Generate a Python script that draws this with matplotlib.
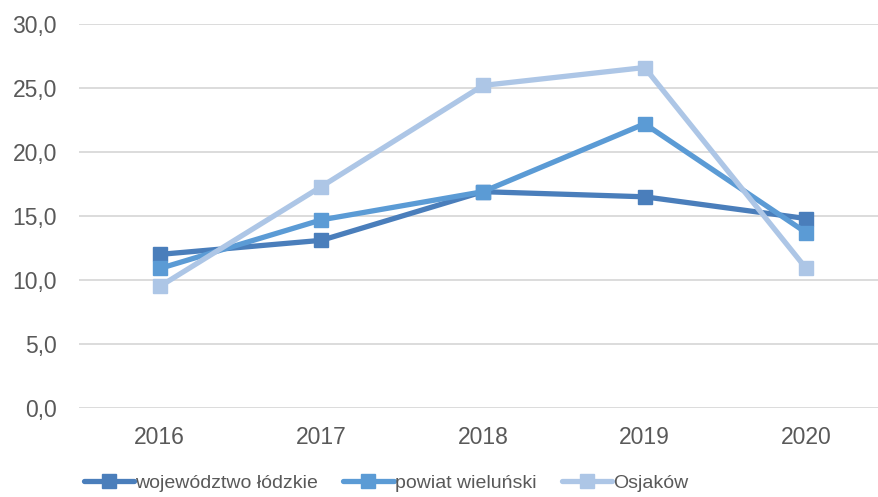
import matplotlib.pyplot as plt
from matplotlib.ticker import FuncFormatter

plt.rcParams['font.family'] = ['Liberation Sans', 'DejaVu Sans']

# dane
years = ['2016', '2017', '2018', '2019', '2020']
wojewodztwo = [12.0, 13.1, 16.9, 16.5, 14.8]
powiat = [10.9, 14.7, 16.9, 22.2, 13.7]
osjakow = [9.5, 17.3, 25.2, 26.6, 10.9]

series = [
    ('województwo łódzkie', wojewodztwo, '#4A7EBB'),
    ('powiat wieluński', powiat, '#5B9BD5'),
    ('Osjaków', osjakow, '#ADC6E6'),
]

fig = plt.figure(figsize=(8.79, 4.97), dpi=100)
ax = fig.add_axes([79 / 879, 89 / 497, 808 / 879, 384 / 497])

x = range(len(years))
for name, vals, color in series:
    ax.plot(x, vals, color=color, linewidth=3.8, marker='s', markersize=10,
            label=name, solid_joinstyle='round', solid_capstyle='round')

ax.set_xlim(-0.5, 4.5)
ax.set_ylim(0, 30)
ax.set_yticks(range(0, 31, 5))
ax.yaxis.set_major_formatter(FuncFormatter(lambda v, p: f'{v:.1f}'.replace('.', ',')))
ax.set_xticks(list(x))
ax.set_xticklabels(years)

ax.grid(axis='y', color='#D9D9D9', linewidth=1.3)
ax.set_axisbelow(True)
for s in ax.spines.values():
    s.set_visible(False)
ax.tick_params(axis='both', length=0, labelsize=16.5, labelcolor='#595959')
ax.tick_params(axis='y', pad=16)
ax.tick_params(axis='x', pad=13)

leg = fig.legend(loc='lower left', bbox_to_anchor=(66 / 879, -0.025), ncol=3,
                 frameon=False, handlelength=2.6, handletextpad=0.05,
                 columnspacing=1.3, fontsize=14)
for t in leg.get_texts():
    t.set_color('#595959')

plt.savefig('out.png', dpi=100)
plt.close()
